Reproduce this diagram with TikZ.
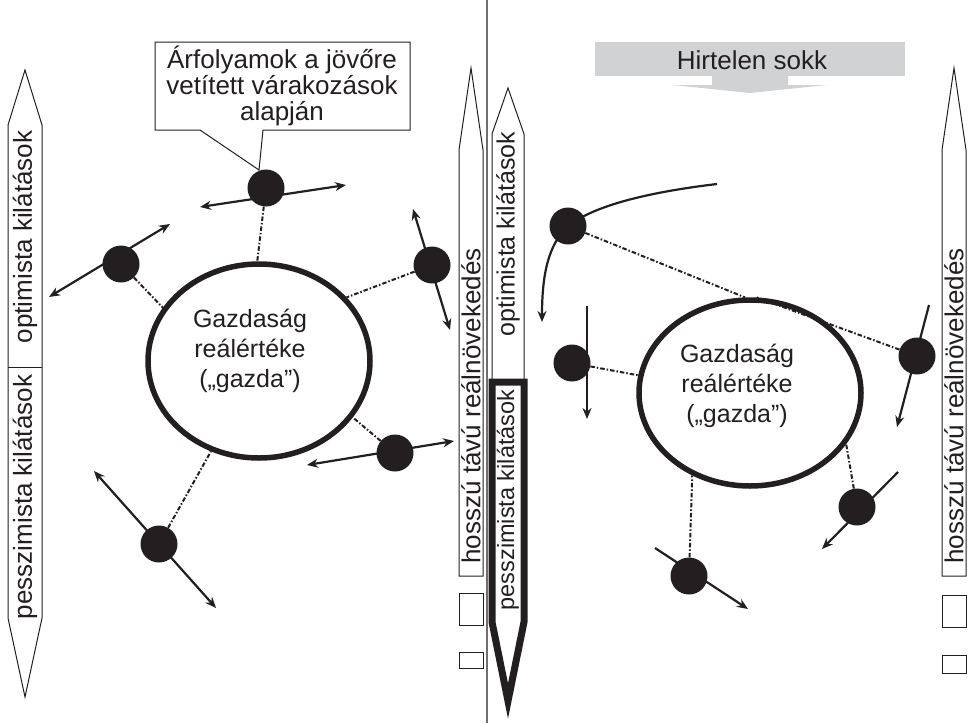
\documentclass[tikz,border=0pt]{standalone}
\usepackage{fontspec}
\setmainfont{Liberation Sans}
\usetikzlibrary{arrows.meta,shapes.geometric}
\definecolor{ink}{HTML}{231F20}
\definecolor{bannergray}{HTML}{D1D2D4}
\definecolor{divgray}{HTML}{6D6E70}
\begin{document}
\begin{tikzpicture}[x=1pt,y=-1pt,
  ball/.style={circle, fill=ink, minimum size=37pt, inner sep=0pt},
  dd/.style={draw=ink, line width=2pt, dash pattern=on 4.5pt off 2pt on 1.5pt off 2pt},
  arr/.style={draw=ink, line width=2.2pt, -{Stealth[length=11pt,width=9pt]}},
  darr/.style={draw=ink, line width=2.2pt, {Stealth[length=11pt,width=9pt]}-{Stealth[length=11pt,width=9pt]}},
  econ/.style={ellipse, draw=ink, line width=5.5pt, inner sep=0pt},
  etext/.style={align=center, text=ink, font=\fontsize{25}{30}\selectfont},
  barshape/.style={draw=ink, line width=1pt, fill=white},
  bartext/.style={rotate=90, font=\fontsize{26}{26}\selectfont, text=ink, inner sep=0pt},
  midtext/.style={rotate=90, font=\fontsize{25}{25}\selectfont, text=ink, inner sep=0pt},
  midtextb/.style={rotate=90, font=\fontsize{23.5}{23.5}\selectfont, text=ink, inner sep=0pt},
  sq/.style={draw=ink, line width=1pt}
]
\useasboundingbox (0,0) rectangle (971,723);

% divider
\draw[divgray, line width=1.3pt] (487,0) -- (487,723);

% ---------------- LEFT PANEL ----------------
\draw[barshape] (25,70) -- (42,125) -- (42,618) -- (25,697) -- (8,618) -- (8,125) -- cycle;
\draw[ink, line width=1pt] (8,367) -- (42,367);
\node[bartext] (lopt) at (25,237) {optimista kilátások};
\node[bartext] (lpes) at (25,497) {pesszimista kilátások};

\draw[barshape] (471,68) -- (483,150) -- (483,576) -- (459,576) -- (459,150) -- cycle;
\node[bartext] (lhossz) at (471,406) {hosszú távú reálnövekedés};
\draw[sq] (459,593) rectangle (483,625);
\draw[sq] (459,652) rectangle (483,668);

\node[econ, minimum width=222pt, minimum height=194pt] (ellL) at (259,361) {};
\node[etext] (ellLt) at (250,351) {Gazdaság\\reálértéke\\(„gazda”)};

% callout
\filldraw[draw=ink, fill=white, line width=1pt]
  (155,42) -- (410,42) -- (410,130) -- (263,130) -- (259,170) -- (200,130) -- (155,130) -- cycle;
\node[align=center, text=ink, font=\fontsize{26}{26}\selectfont] (call) at (282,86)
  {Árfolyamok a jövőre\\vetített várakozások\\alapján};

\coordinate (a1s) at (49,297); \coordinate (a1e) at (170,224);
\coordinate (a2s) at (200,207); \coordinate (a2e) at (346,185);
\coordinate (a3s) at (413,209); \coordinate (a3e) at (450,330);
\coordinate (a4s) at (307,465); \coordinate (a4e) at (454,441);
\coordinate (a5s) at (94,471); \coordinate (a5e) at (216,608);
\draw[darr] (a1s) -- (a1e);
\draw[darr] (a2s) -- (a2e);
\draw[darr] (a3s) -- (a3e);
\draw[darr] (a4s) -- (a4e);
\draw[darr] (a5s) -- (a5e);

\node[ball] (b1) at (121,264) {};
\node[ball] (b2) at (266,188) {};
\node[ball] (b3) at (432,265) {};
\node[ball] (b4) at (395,453) {};
\node[ball] (b5) at (159,544) {};

\draw[dd] (b1) -- (ellL.151);
\draw[dd] (b2) -- (ellL.91);
\draw[dd] (b3) -- (ellL.36);
\draw[dd] (b4) -- (ellL.329);
\draw[dd] (b5) -- (ellL.242);

% ---------------- MIDDLE ARROW ----------------
\draw[barshape] (508,88) -- (524,134) -- (524,622) -- (508,703) -- (492,622) -- (492,134) -- cycle;
\draw[ink, line width=7pt, line join=miter] (492,382) -- (524,382) -- (524,622) -- (508,701) -- (492,622) -- cycle;
\node[midtext] (mopt) at (508,234) {optimista kilátások};
\node[midtextb] (mpes) at (508,500) {pesszimista kilátások};

% ---------------- RIGHT PANEL ----------------
\fill[bannergray] (595,42) rectangle (905,76);
\fill[bannergray] (712,75) -- (788,75) -- (788,85) -- (827,85) -- (750,93) -- (673,85) -- (712,85) -- cycle;
\node[text=ink, font=\fontsize{26}{26}\selectfont] (shock) at (752,60) {Hirtelen sokk};

\draw[barshape] (954,68) -- (966,150) -- (966,576) -- (942,576) -- (942,150) -- cycle;
\node[bartext] (rhossz) at (954,406) {hosszú távú reálnövekedés};
\draw[sq] (942,595) rectangle (966,627);
\draw[sq] (942,655) rectangle (966,673);

\node[econ, minimum width=222pt, minimum height=186pt] (ellR) at (750,393) {};
\node[etext] (ellRt) at (737,386) {Gazdaság\\reálértéke\\(„gazda”)};

\coordinate (c1s) at (717,184);
\coordinate (c1m) at (568,226);
\coordinate (c1e) at (542,322);
\draw[arr] (c1s) .. controls (650,192) and (595,205) .. (c1m)
  .. controls (548,245) and (542,275) .. (c1e);
\coordinate (c2s) at (587,306); \coordinate (c2e) at (587,419);
\draw[arr] (c2s) -- (c2e);
\coordinate (c3s) at (929,305); \coordinate (c3e) at (897,427);
\draw[arr] (c3s) -- (c3e);
\coordinate (c4s) at (898,472); \coordinate (c4e) at (822,549);
\draw[arr] (c4s) -- (c4e);
\coordinate (c5s) at (655,548); \coordinate (c5e) at (748,609);
\draw[arr] (c5s) -- (c5e);

\node[ball] (d1) at (c1m) {};
\node[ball] (d2) at (572,363) {};
\node[ball] (d3) at (917,356) {};
\node[ball] (d4) at (857,507) {};
\node[ball] (d5) at (689,576) {};

\draw[dd] (d1) -- (ellR.93);
\draw[dd] (d3) -- (ellR.86);
\draw[dd] (d2) -- (ellR.171);
\draw[dd] (d4) -- (ellR.332);
\draw[dd] (d5) -- (ellR.235);

\end{tikzpicture}
\end{document}
